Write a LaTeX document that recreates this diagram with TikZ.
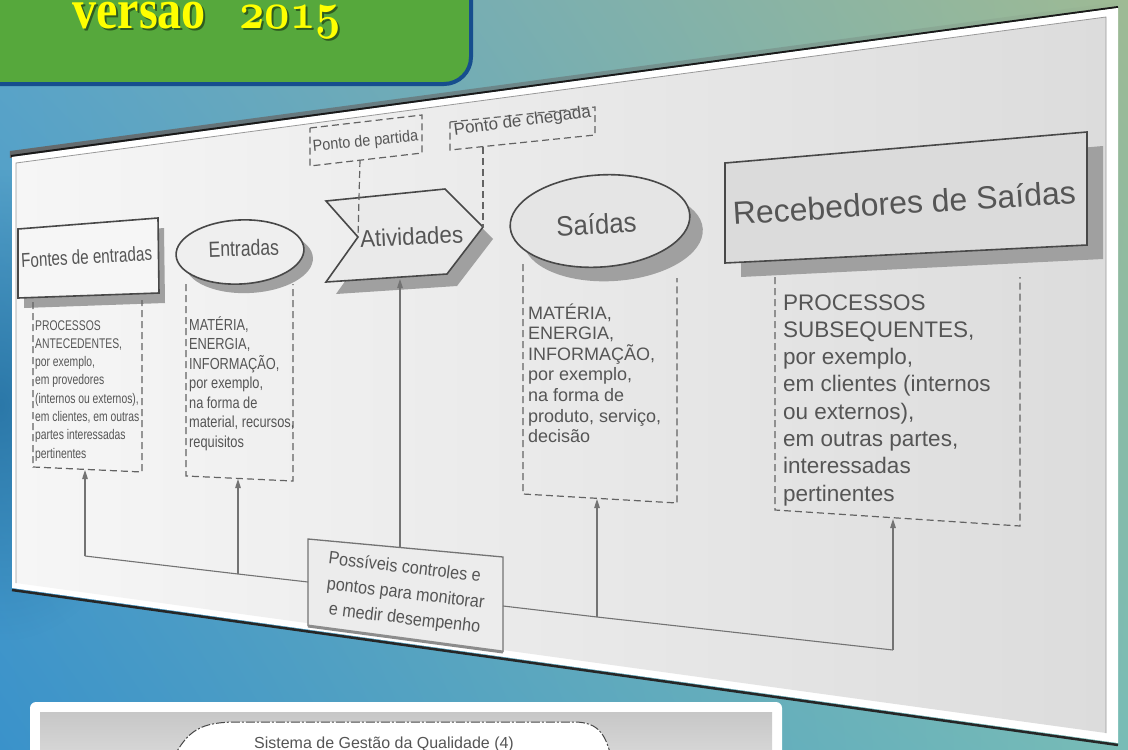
\documentclass[tikz,border=0pt]{standalone}
\usepackage{graphicx}
\usepackage{fontspec}
\usetikzlibrary{arrows.meta,fadings,shadings}
\newfontfamily\arialfont{Liberation Sans}
\newfontfamily\titleserif{Liberation Serif}
\newcommand\dsz[1]{\arialfont\fontsize{#1}{#1}\selectfont}
\newcommand\oldfigs[1]{\resizebox{118pt}{!}{\usefont{OML}{cmm}{b}{it}#1}}
\definecolor{bgUL}{RGB}{92,165,200}
\definecolor{bgUR}{RGB}{158,186,148}
\definecolor{bgLL}{RGB}{58,146,202}
\definecolor{bgLR}{RGB}{120,188,182}
\definecolor{bgdark}{RGB}{30,105,155}
\definecolor{hdrgreen}{RGB}{86,168,60}
\definecolor{hdrblue}{RGB}{22,78,142}
\definecolor{hdryellow}{RGB}{255,255,0}
\definecolor{paperL}{RGB}{246,246,246}
\definecolor{paperR}{RGB}{220,220,220}
\definecolor{ink}{RGB}{72,72,72}
\definecolor{txt}{RGB}{85,85,85}
\definecolor{shadegray}{RGB}{160,160,160}
\definecolor{wiregray}{RGB}{115,115,115}

\tikzfading[name=sidefade, inner color=transparent!0, outer color=transparent!100]

% outlines of the shapes (pixel coordinates, y pointing down)
\newcommand\shpFontes{(18,229) -- (158,218) -- (159,293) -- (18,298) -- cycle}
\newcommand\shpEntradas{(240,252) ellipse [x radius=64, y radius=32, rotate=3]}
\newcommand\shpAtiv{(326,201) -- (445,189) -- (483,227) -- (447,274) -- (326,282) -- (358,237) -- cycle}
\newcommand\shpSaidas{(600,221) ellipse [x radius=90, y radius=46, rotate=4]}
\newcommand\shpReceb{(725,163) -- (1087,132) -- (1087,245) -- (725,263) -- cycle}

\tikzset{
  outline/.style={draw=ink, line width=1.6pt},
  dropshadow/.style={fill=shadegray},
  dashbox/.style={draw=ink!85, line width=1.2pt, dash pattern=on 7pt off 4pt},
  wire/.style={draw=wiregray, line width=1.1pt},
  tip/.style={-{Triangle[length=9pt,width=5.5pt]}},
  lbl/.style={text=txt, inner sep=0pt},
  titletext/.style={anchor=base west, inner sep=0pt, xscale=0.86,
    font=\fontsize{56}{56}\selectfont\titleserif\bfseries},
}

\begin{document}
\begin{tikzpicture}[x=1pt,y=-1pt]
\useasboundingbox (0,0) rectangle (1128,750);
\begin{scope}
\clip (0,0) rectangle (1128,750);

% slide background
\shade[upper left=bgUL, upper right=bgUR, lower left=bgLL, lower right=bgLR] (0,0) rectangle (1128,750);
\fill[bgdark, path fading=sidefade, opacity=0.7] (-160,170) rectangle (160,640);

% title banner
\draw[hdrblue, line width=4pt, fill=hdrgreen, rounded corners=27pt] (-30,-40) rectangle (471,84);
\node[titletext, text=black, opacity=0.45] (titleshadow) at (74,30.5) {versão\hspace{0.7em}\oldfigs{2015}};
\node[titletext, text=hdryellow] (title) at (72,28) {versão\hspace{0.7em}\oldfigs{2015}};

% lower sheet
\fill[white, rounded corners=6pt] (30,702) rectangle (782,780);
\shade[top color=black!22, bottom color=black!12] (40,712) rectangle (772,780);
\fill[white] (172,760) .. controls (188,730) and (200,722) .. (238,722) -- (574,722) .. controls (600,722) and (606,736) .. (612,760) -- cycle;
\draw[ink, line width=1pt, dash pattern=on 9pt off 2pt on 2pt off 2pt] (172,760) .. controls (188,730) and (200,722) .. (238,722) -- (574,722) .. controls (600,722) and (606,736) .. (612,760);
\node[lbl, anchor=base, font=\dsz{16}] (sgq) at (384,748) {Sistema de Gestão da Qualidade (4)};

% tilted sheet with the process diagram
\fill[black!60, path fading=north] (10,151) -- (1118,2) -- (1118,9) -- (10,158) -- cycle;
\draw[black!90, line width=2pt] (11,156) -- (1118,7);
\draw[black!85, line width=2.5pt] (12,590) -- (1118,745);
\fill[white] (12,157) -- (1118,8) -- (1118,743) -- (12,588) -- cycle;
\shade[left color=paperL, right color=paperR] (16,163) -- (1106,17) -- (1106,733) -- (16,583) -- cycle;
\draw[black!40, line width=0.8pt] (16,583) -- (16,163) -- (1106,17) -- (1106,733);

% drop shadows
\fill[dropshadow, shift={(6,10)}] \shpFontes;
\fill[dropshadow, shift={(9,9)}] \shpEntradas;
\fill[dropshadow, shift={(10,12)}] \shpAtiv;
\fill[dropshadow, shift={(13,14)}] \shpSaidas;
\fill[dropshadow, shift={(16,14)}] \shpReceb;

% main shapes
\filldraw[outline, fill=paperL] \shpFontes;
\filldraw[outline, fill=paperL!97!black] \shpEntradas;
\filldraw[outline, fill=paperL!95!black] \shpAtiv;
\filldraw[outline, fill=paperL!93!black] \shpSaidas;
\filldraw[outline, fill=paperR!103!white] \shpReceb;

\node[lbl, anchor=base, rotate=3.2, xscale=0.76, font=\dsz{20}] (fontesT) at (87,264) {Fontes de entradas};
\node[lbl, anchor=base, rotate=2, xscale=0.8, font=\dsz{22}] (entradasT) at (244,256) {Entradas};
\node[lbl, anchor=base, rotate=2.8, xscale=0.93, font=\dsz{24}] (ativT) at (412,245) {Atividades};
\node[lbl, anchor=base, rotate=3.5, xscale=0.92, font=\dsz{28}] (saidasT) at (597,234) {Saídas};
\node[lbl, anchor=base, rotate=3.6, font=\dsz{32}] (recebT) at (905,214) {Recebedores de Saídas};

% start and end point boxes
\draw[dashbox] (310,128) -- (422,115) -- (422,153) -- (310,166) -- cycle;
\draw[dashbox] (450,122) -- (595,107) -- (595,135) -- (450,150) -- cycle;
\node[lbl, anchor=base, rotate=5.6, xscale=0.9, font=\dsz{16}] (partidaT) at (366,146) {Ponto de partida};
\node[lbl, anchor=base, rotate=7.5, font=\dsz{17}] (chegadaT) at (523,126) {Ponto de chegada};
\coordinate (partidaB) at (360,160);
\coordinate (ativNotch) at (358,237);
\coordinate (chegadaB) at (483,147);
\coordinate (ativTip) at (483,227);
\draw[dashbox] (partidaB) -- (ativNotch);
\draw[dashbox] (chegadaB) -- (ativTip);

% dashed description boxes
\draw[dashbox] (33,302) -- (33,467) -- (142,472) -- (142,300);
\draw[dashbox] (186,284) -- (186,476) -- (293,481) -- (293,284);
\draw[dashbox] (523,264) -- (523,494) -- (677,503) -- (677,278);
\draw[dashbox] (775,277) -- (775,510) -- (1020,526) -- (1020,277);

\foreach \t [count=\i from 0] in {{PROCESSOS},{ANTECEDENTES,},{por exemplo,},{em provedores},{(internos ou externos),},{em clientes, em outras},{partes interessadas},{pertinentes}}
  \node[lbl, anchor=base west, xscale=0.74, font=\dsz{14}] (fontesL\i) at (35,{330+18.3*\i}) {\t};
\foreach \t [count=\i from 0] in {{MATÉRIA,},{ENERGIA,},{INFORMAÇÃO,},{por exemplo,},{na forma de},{material, recursos,},{requisitos}}
  \node[lbl, anchor=base west, xscale=0.8, font=\dsz{16}] (entradasL\i) at (189,{330+19.5*\i}) {\t};
\foreach \t [count=\i from 0] in {{MATÉRIA,},{ENERGIA,},{INFORMAÇÃO,},{por exemplo,},{na forma de},{produto, serviço,},{decisão}}
  \node[lbl, anchor=base west, font=\dsz{18}] (saidasL\i) at (528,{319+20.6*\i}) {\t};
\foreach \t [count=\i from 0] in {{PROCESSOS},{SUBSEQUENTES,},{por exemplo,},{em clientes (internos},{ou externos),},{em outras partes,},{interessadas},{pertinentes}}
  \node[lbl, anchor=base west, font=\dsz{22.5}] (recebL\i) at (783,{310+27.3*\i}) {\t};

% monitoring box
\filldraw[draw=wiregray, line width=1.3pt, fill=paperL!96!black] (308,626) -- (308,539) -- (503,557) -- (503,652);
\draw[black!45, line width=3pt] (308,626) -- (503,652);
\node[lbl, anchor=base, rotate=-6.8, xscale=0.9, font=\dsz{18}] (ctrl1) at (404,573) {Possíveis controles e};
\node[lbl, anchor=base, rotate=-6.8, xscale=0.9, font=\dsz{18}] (ctrl2) at (405,599) {pontos para monitorar};
\node[lbl, anchor=base, rotate=-6.8, xscale=0.9, font=\dsz{18}] (ctrl3) at (404,624) {e medir desempenho};

% feedback connectors
\coordinate (busA) at (85,556);
\coordinate (busB) at (238,574);
\coordinate (ctrlL) at (308,582);
\coordinate (ctrlT) at (400,547);
\coordinate (ctrlR) at (503,606);
\coordinate (busC) at (597,617);
\coordinate (busD) at (893,650);
\coordinate (fontesBox) at (85,470);
\coordinate (entradasBox) at (238,479);
\coordinate (ativBottom) at (400,279);
\coordinate (saidasBox) at (597,499);
\coordinate (recebBox) at (893,519);

\draw[wire] (ctrlL) -- (busB) -- (busA);
\draw[wire] (ctrlR) -- (busC) -- (busD);
\draw[wire, tip] (busA) -- (fontesBox);
\draw[wire, tip] (busB) -- (entradasBox);
\draw[wire, tip] (ctrlT) -- (ativBottom);
\draw[wire, tip] (busC) -- (saidasBox);
\draw[wire, tip] (busD) -- (recebBox);
\end{scope}
\end{tikzpicture}
\end{document}
